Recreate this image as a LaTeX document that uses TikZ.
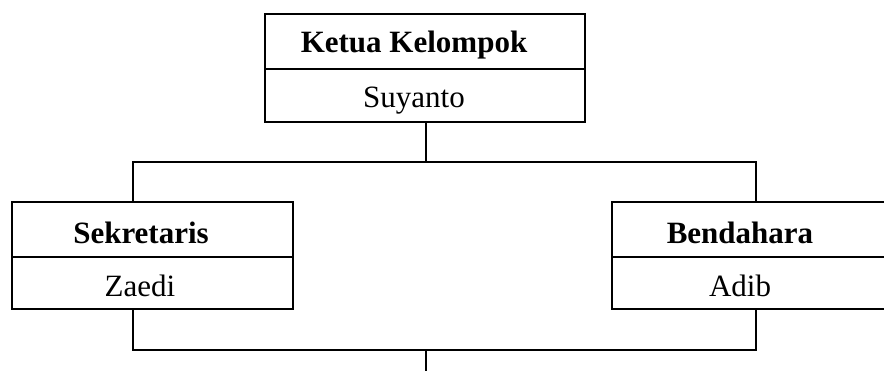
\documentclass[tikz,border=0pt]{standalone}
\usepackage{fontspec}
\setmainfont{Liberation Serif}
\begin{document}
\begin{tikzpicture}[x=1pt,y=-1pt,
  cell/.style={draw, line width=2pt, inner sep=0pt, anchor=center},
  ttl/.style={font=\fontsize{31}{36}\selectfont\bfseries, anchor=base, inner sep=0pt},
  nm/.style={font=\fontsize{31}{36}\selectfont, anchor=base, inner sep=0pt},
  conn/.style={line width=2pt}]
\useasboundingbox (0,0) rectangle (884,371);
% Ketua
\node[cell, minimum width=320pt, minimum height=55pt] (ktT) at (425,41.5) {};
\node[cell, minimum width=320pt, minimum height=53pt] (ktN) at (425,95.5) {};
\node[ttl] (ktTx) at (414,53) {Ketua Kelompok};
\node[nm] (ktNx) at (414,108) {Suyanto};
% Sekretaris
\node[cell, minimum width=281pt, minimum height=55pt] (skT) at (152.5,229.5) {};
\node[cell, minimum width=281pt, minimum height=52pt] (skN) at (152.5,283) {};
\node[ttl] (skTx) at (141,243.3) {Sekretaris};
\node[nm] (skNx) at (140,296.7) {Zaedi};
% Bendahara
\node[cell, minimum width=281pt, minimum height=55pt] (bdT) at (752,229.5) {};
\node[cell, minimum width=281pt, minimum height=52pt] (bdN) at (752,283) {};
\node[ttl] (bdTx) at (740,243.3) {Bendahara};
\node[nm] (bdNx) at (740,296.7) {Adib};
% connectors
\coordinate (hubT) at (425.7,162);
\coordinate (lT) at (133,162);
\coordinate (rT) at (756,162);
\coordinate (lB) at (133,350);
\coordinate (rB) at (756,350);
\coordinate (hubB) at (425.7,350);
\coordinate (endB) at (425.7,380);
\draw[conn] (ktN.south -| hubT) -- (hubT);
\draw[conn] (skT.north -| lT) -- (lT) -- (rT) -- (bdT.north -| rT);
\draw[conn] (skN.south -| lB) -- (lB) -- (rB) -- (bdN.south -| rB);
\draw[conn] (hubB) -- (endB);
\end{tikzpicture}
\end{document}
